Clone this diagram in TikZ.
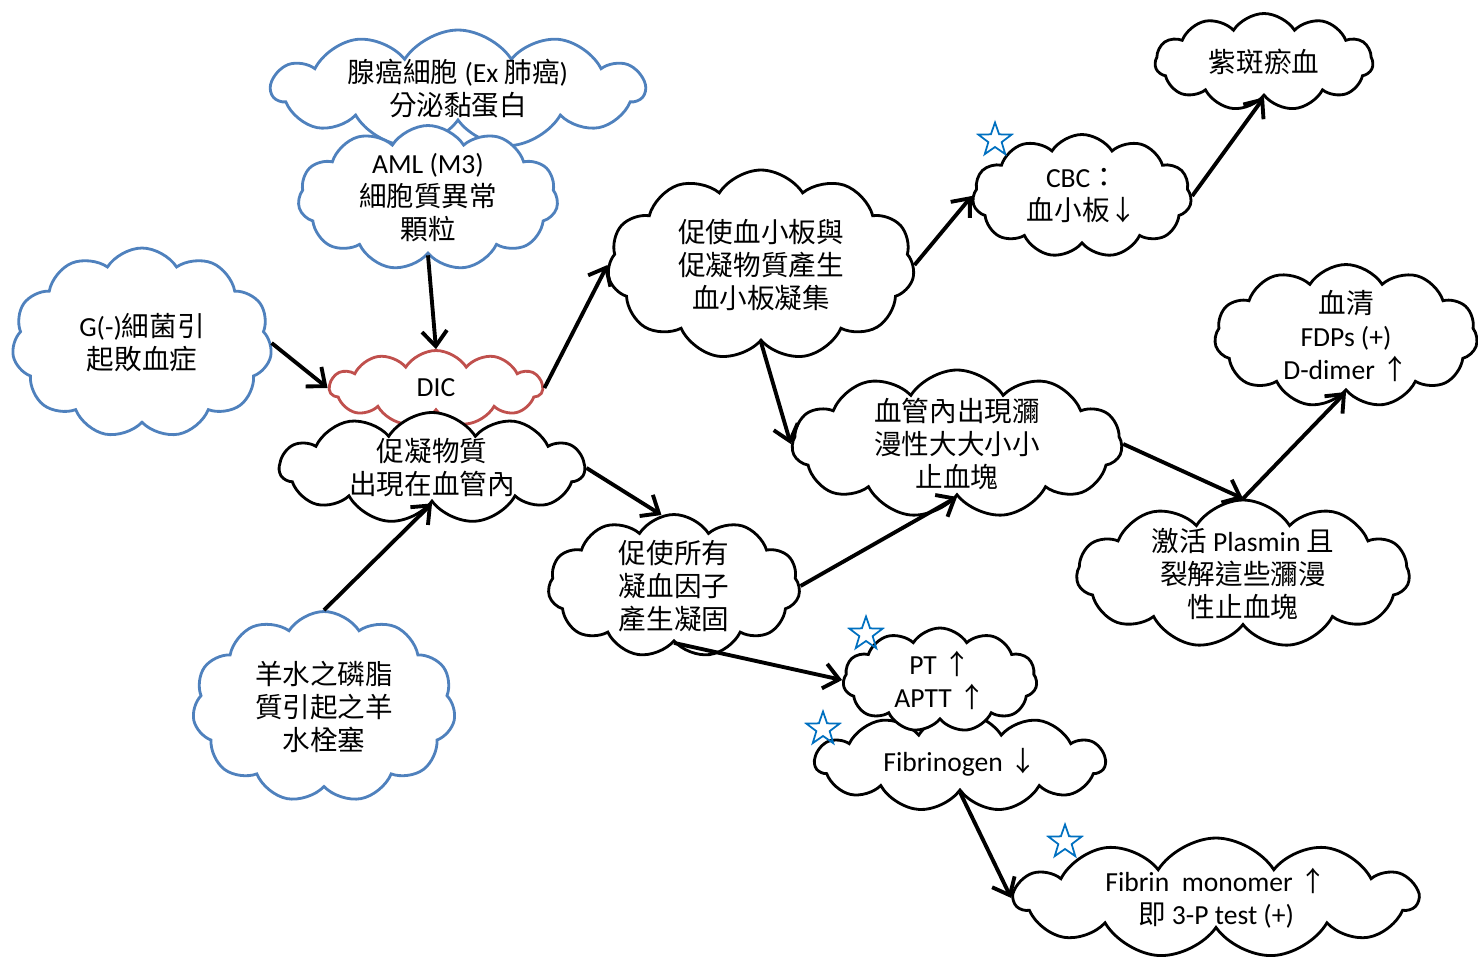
\documentclass[tikz,border=0pt]{standalone}
\usepackage{fontspec}
\setmainfont{Carlito}
\newfontfamily\cjk{Noto Sans CJK TC}
\newcommand{\zh}[1]{{\cjk #1}}
\usetikzlibrary{shapes.symbols,shapes.geometric,arrows.meta,positioning}
\definecolor{cblue}{HTML}{4F81BD}
\definecolor{cred}{HTML}{C0504D}
\definecolor{sblue}{HTML}{0070C0}

\begin{document}
\begin{tikzpicture}[x=0.02cm,y=-0.02cm,
  every node/.style={align=center,font=\fontsize{15.7}{18.8}\selectfont},%
  cl/.style={cloud,cloud puffs=11,cloud puff arc=115,cloud ignores aspect,%
    draw,fill=white,line width=1.6pt,inner sep=-8pt},%
  bl/.style={draw=cblue},%
  rd/.style={draw=cred},%
  e/.style={-{Straight Barb[length=3mm,width=5mm]},line width=2.2pt},%
  st/.style={star,star points=5,star point ratio=2.5,draw=sblue,line width=1pt,%
    minimum size=0.7cm,inner sep=0pt},%
  ]
  \useasboundingbox (0,0) rectangle (1478,963);
  % causes
  \node (adeno) at (458,89) [cl,bl,minimum width=7.46cm,minimum height=2.36cm]
    {\zh{腺癌細胞} (Ex \zh{肺癌})\\\zh{分泌黏蛋白}};
  \node (aml) at (428,198) [cl,bl,minimum width=5.2cm,minimum height=2.9cm]
    {AML (M3)\\\zh{細胞質異常}\\\zh{顆粒}};
  \node (gneg) at (142,343) [cl,bl,minimum width=5.2cm,minimum height=3.8cm]
    {G(-)\zh{細菌引}\\\zh{起敗血症}};
  \node (amn) at (324,707) [cl,bl,minimum width=5.26cm,minimum height=3.82cm]
    {\zh{羊水之磷脂}\\\zh{質引起之羊}\\\zh{水栓塞}};
  % DIC
  \node (dic) at (436,388) [cl,rd,minimum width=4.26cm,minimum height=1.5cm] {DIC};
  \node (pro) at (432,468) [cl,minimum width=6.1cm,minimum height=2.22cm]
    {\zh{促凝物質}\\\zh{出現在血管內}};
  % consequences
  \node (plt) at (761,265) [cl,minimum width=6.14cm,minimum height=3.8cm]
    {\zh{促使血小板與}\\\zh{促凝物質產生}\\\zh{血小板凝集}};
  \node (cbc) at (1082,196) [cl,minimum width=4.38cm,minimum height=2.46cm]
    {CBC\zh{：}\\\zh{血小板↓}};
  \node (pur) at (1264,62) [cl,minimum width=4.36cm,minimum height=1.94cm] {\zh{紫斑瘀血}};
  \node (ser) at (1346,336) [cl,minimum width=5.26cm,minimum height=2.86cm]
    {\zh{血清}\\FDPs (+)\\D-dimer \zh{↑}};
  \node (vas) at (957,444) [cl,minimum width=6.6cm,minimum height=2.96cm]
    {\zh{血管內出現瀰}\\\zh{漫性大大小小}\\\zh{止血塊}};
  \node (pla) at (1243,574) [cl,minimum width=6.66cm,minimum height=2.96cm]
    {\zh{激活} Plasmin \zh{且}\\\zh{裂解這些瀰漫}\\\zh{性止血塊}};
  \node (fac) at (674,586) [cl,minimum width=5.04cm,minimum height=2.86cm]
    {\zh{促使所有}\\\zh{凝血因子}\\\zh{產生凝固}};
  \node (fib) at (960,762) [cl,minimum width=5.8cm,minimum height=1.98cm] {Fibrinogen \zh{↓}};
  \node (pt) at (940,680) [cl,minimum width=3.88cm,minimum height=2.08cm]
    {PT \zh{↑}\\APTT \zh{↑}};
  \node (mon) at (1216,898) [cl,minimum width=8.06cm,minimum height=2.4cm]
    {Fibrin\ \ monomer \zh{↑}\\\zh{即} 3-P test (+)};
  % stars
  \node (s1) at (995,140) [st] {};
  \node (s2) at (866,634) [st] {};
  \node (s3) at (823,729) [st] {};
  \node (s4) at (1065,842) [st] {};
  % arrows
  \draw [e] (aml.south) -- (dic.north);
  \draw [e] (gneg.east) -- (dic.west);
  \draw [e] (amn.north) -- (pro.south);
  \draw [e] (dic.east) -- (plt.west);
  \draw [e] (pro.east) -- (fac.100);
  \draw [e] (plt.south) -- (vas.west);
  \draw [e] (plt.east) -- (cbc.west);
  \draw [e] (cbc.east) -- (pur.south);
  \draw [e] (vas.east) -- (pla.north);
  \draw [e] (pla.north) -- (ser.south);
  \draw [e] (fac.east) -- (vas.south);
  \draw [e] (fac.south) -- (pt.west);
  \draw [e] (fib.south) -- (mon.west);
\end{tikzpicture}
\end{document}
